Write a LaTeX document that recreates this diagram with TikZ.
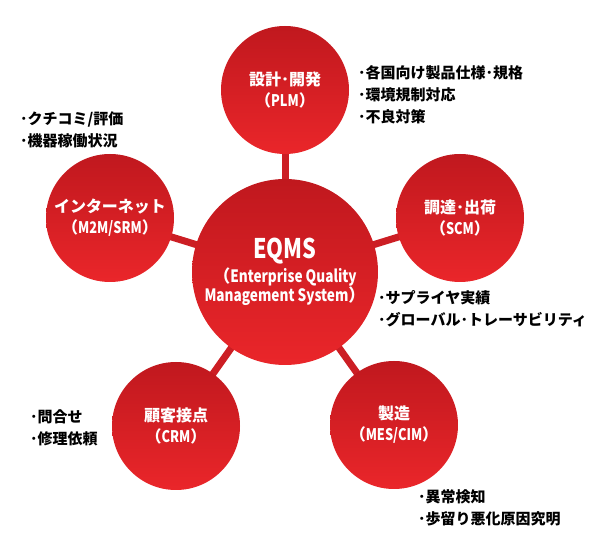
\documentclass[tikz,border=0pt]{standalone}
\usepackage{fontspec}
\newfontfamily\jpfont{Noto Sans CJK JP}
\newfontfamily\latfont{Noto Sans CJK JP}[FakeStretch=0.8]
\usetikzlibrary{backgrounds}

\definecolor{eqmsdark}{RGB}{192,24,30}
\definecolor{eqmslight}{RGB}{234,38,42}
\definecolor{linkred}{RGB}{204,30,36}

\tikzset{
  hub/.style={circle, inner sep=0pt, minimum size=186pt, top color=eqmsdark,
    bottom color=eqmslight, text=white, align=center,
    font=\latfont\bfseries\fontsize{17}{19}\selectfont},
  sat/.style={hub, minimum size=128pt, font=\jpfont\bfseries\fontsize{16}{21}\selectfont},
  note/.style={anchor=west, align=left, inner sep=0pt,
    font=\jpfont\bfseries\fontsize{15}{22}\selectfont},
  link/.style={draw=linkred, line width=7pt}
}
\newcommand{\abbr}[1]{（{\latfont\bfseries #1}）}

\begin{document}
\begin{tikzpicture}[x=1pt,y=-1pt]
	\useasboundingbox (0,0) rectangle (590,540);
	% centre and the five areas
	\node[hub] (eqms) at (285,272) {{\fontsize{27}{27}\selectfont EQMS}\\[3pt]
		{\jpfont （}Enterprise Quality\\Management System{\jpfont ）}};
	\node[sat] (plm) at (285,90) {設計･開発\\\abbr{PLM}};
	\node[sat] (scm) at (460,218) {調達･出荷\\\abbr{SCM}};
	\node[sat] (net) at (110,218) {インターネット\\\abbr{M2M/SRM}};
	\node[sat] (crm) at (176,426) {顧客接点\\\abbr{CRM}};
	\node[sat] (mes) at (394,425) {製造\\\abbr{MES/CIM}};
	\begin{pgfonlayer}{background}
		\foreach \s in {plm,scm,net,crm,mes}
			\draw[link] (eqms.center) -- (\s.center);
	\end{pgfonlayer}
	% notes
	\node[note] (plmnote) at (358,95) {･各国向け製品仕様･規格\\･環境規制対応\\･不良対策};
	\node[note] (netnote) at (20,130) {･クチコミ/評価\\･機器稼働状況};
	\node[note] (scmnote) at (378,309) {･サプライヤ実績\\･グローバル･トレーサビリティ};
	\node[note] (crmnote) at (30,428) {･問合せ\\･修理依頼};
	\node[note] (mesnote) at (418,508) {･異常検知\\･歩留り悪化原因究明};
\end{tikzpicture}
\end{document}
